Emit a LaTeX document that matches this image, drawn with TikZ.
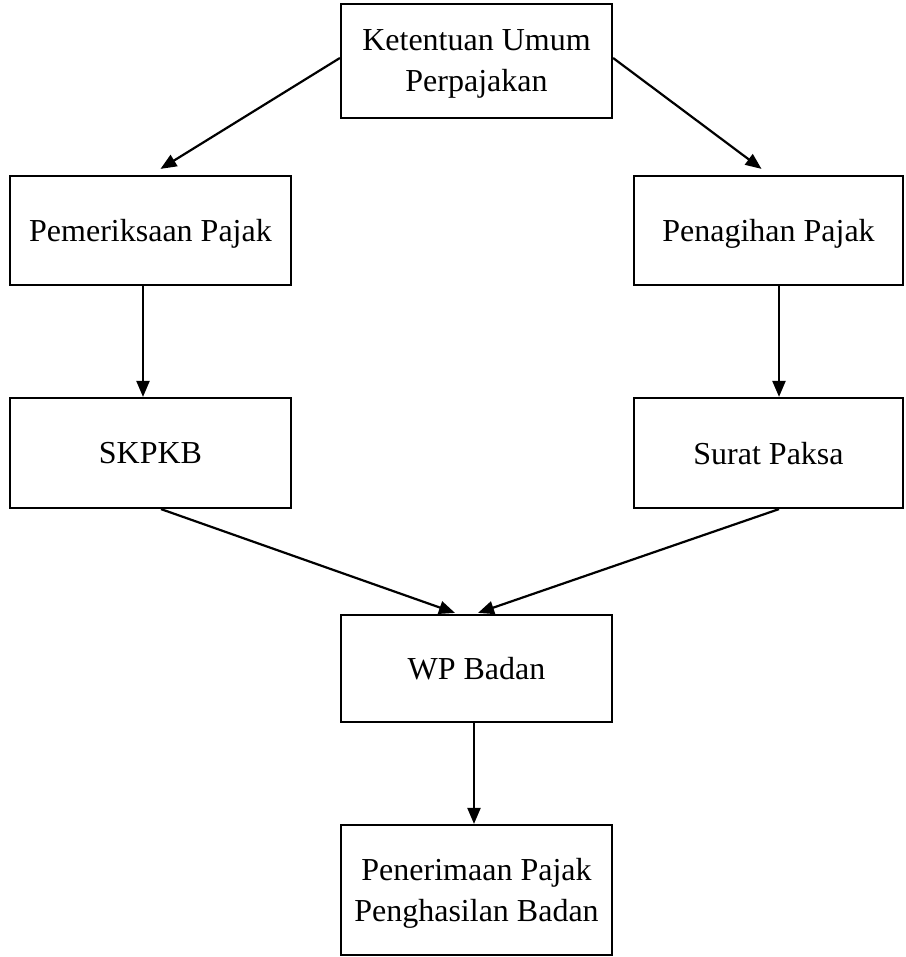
\documentclass[tikz,border=0pt]{standalone}
\usepackage{fontspec}
\setmainfont{Liberation Serif}
\usetikzlibrary{arrows.meta}
\begin{document}
\begin{tikzpicture}[x=1pt,y=-1pt,
  box/.style={draw=black,line width=2.2pt,align=center,inner sep=0pt,
    text depth=0pt,font=\fontsize{32}{41}\selectfont},
  conn/.style={line width=2.2pt,-{Triangle[length=16pt,width=13pt]}}]
\useasboundingbox (0,0) rectangle (905,957);
\node[box,minimum width=271pt,minimum height=114pt] (top) at (476.5,61) {Ketentuan Umum\\Perpajakan};
\node[box,minimum width=281pt,minimum height=109pt] (pem) at (150.5,230.5) {Pemeriksaan Pajak};
\node[box,minimum width=269pt,minimum height=109pt] (pen) at (768.5,230.5) {Penagihan Pajak};
\node[box,minimum width=281pt,minimum height=110pt] (skp) at (150.5,453) {SKPKB};
\node[box,minimum width=269pt,minimum height=110pt] (sur) at (768.5,453) {Surat Paksa};
\node[box,minimum width=271pt,minimum height=107pt] (wp) at (476.5,668.5) {WP Badan};
\node[box,minimum width=271pt,minimum height=130pt] (fin) at (476.5,890) {Penerimaan Pajak\\Penghasilan Badan};
\draw[conn] ([yshift=3pt]top.west) -- ([xshift=10pt,yshift=6pt]pem.north);
\draw[conn] ([yshift=3pt]top.east) -- ([xshift=-7pt,yshift=6pt]pen.north);
\draw[conn] ([xshift=-7.5pt]pem.south) -- ([xshift=-7.5pt]skp.north);
\draw[conn] ([xshift=10.5pt]pen.south) -- ([xshift=10.5pt]sur.north);
\draw[conn] ([xshift=10.5pt]skp.south) -- ([xshift=-21.5pt,yshift=1pt]wp.north);
\draw[conn] ([xshift=10.5pt]sur.south) -- ([xshift=1.5pt,yshift=1pt]wp.north);
\draw[conn] ([xshift=-2.5pt]wp.south) -- ([xshift=-2.5pt]fin.north);
\end{tikzpicture}
\end{document}
